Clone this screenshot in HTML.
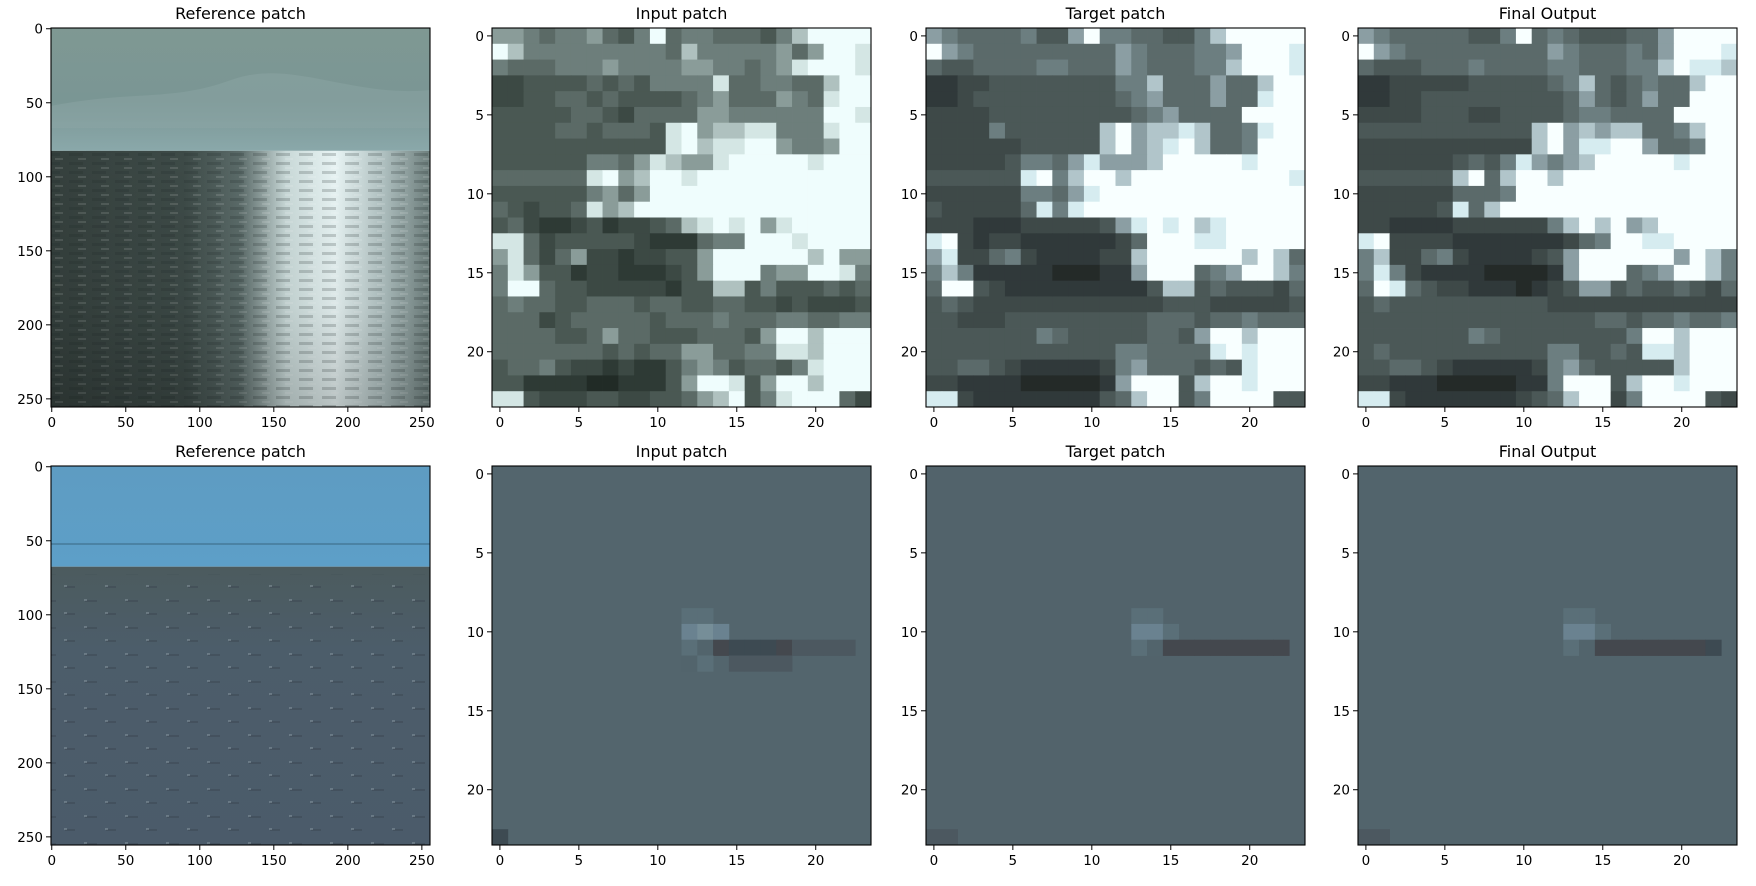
<!DOCTYPE html>
<html><head><meta charset="utf-8">
<style>
html,body{margin:0;padding:0;background:#fff;}
svg{display:block;font-family:"DejaVu Sans","Liberation Sans",sans-serif;}
</style></head>
<body>
<svg id="fig" width="1756" height="886" viewBox="0 0 1756 886" xmlns="http://www.w3.org/2000/svg">
<defs>
<linearGradient id="sky1" x1="0" y1="0" x2="0" y2="1">
<stop offset="0" stop-color="#7f9893"/><stop offset="0.6" stop-color="#7a9694"/><stop offset="1" stop-color="#8aa8aa"/>
</linearGradient>
<linearGradient id="sea1" x1="0" y1="0" x2="1" y2="0">
<stop offset="0" stop-color="#35403d"/><stop offset="0.35" stop-color="#3d4a47"/><stop offset="0.5" stop-color="#5b6b69"/>
<stop offset="0.62" stop-color="#c9d9d8"/><stop offset="0.75" stop-color="#e8f4f4"/><stop offset="0.88" stop-color="#aebfbf"/><stop offset="1" stop-color="#6e7f7d"/>
</linearGradient>
<linearGradient id="seaV" x1="0" y1="0" x2="0" y2="1">
<stop offset="0" stop-color="#000" stop-opacity="0"/><stop offset="0.6" stop-color="#000" stop-opacity="0.05"/><stop offset="1" stop-color="#000" stop-opacity="0.2"/>
</linearGradient>
<pattern id="waves" width="23" height="9" patternUnits="userSpaceOnUse">
<rect x="0" y="0" width="14" height="3" fill="#1e2826" opacity="0.2"/>
<rect x="9" y="5" width="8" height="2" fill="#ffffff" opacity="0.12"/>
</pattern>
<linearGradient id="blue2" x1="0" y1="0" x2="0" y2="1">
<stop offset="0" stop-color="#5e9cc2"/><stop offset="1" stop-color="#5d9fc8"/>
</linearGradient>
<linearGradient id="floor2" x1="0" y1="0" x2="0" y2="1">
<stop offset="0" stop-color="#4c5b5e"/><stop offset="0.3" stop-color="#4c5d6a"/><stop offset="1" stop-color="#4b5b6a"/>
</linearGradient>
<pattern id="spots" width="41" height="27" patternUnits="userSpaceOnUse">
<rect x="3" y="6" width="12" height="2" fill="#3a4650" opacity="0.6"/>
<rect x="2" y="5" width="3" height="2" fill="#9aa8b0" opacity="0.5"/>
<rect x="24" y="19" width="10" height="2" fill="#3a4650" opacity="0.6"/>
<rect x="23" y="18" width="3" height="2" fill="#9aa8b0" opacity="0.5"/>
</pattern>
</defs>
<g id="root"></g>
</svg>
<script>
// ---- data ----
const refTicks = [0, 50, 100, 150, 200, 250];
const patchTicks = [0, 5, 10, 15, 20];
const titlesTop = ["Reference patch", "Input patch", "Target patch", "Final Output"];
const titlesBottom = ["Reference patch", "Input patch", "Target patch", "Final Output"];
const levelColorsInput = ["#212b26","#2e3a35","#3c4944","#4a5853","#5b6a66","#6d7e7b","#8a9c99","#afc1bf","#d4e6e4","#effdfd"];
const levelColorsTarget = ["#242a28","#30393a","#3e4948","#4b5857","#5b6a6a","#6c7e80","#8b9ea3","#b1c5ca","#d6ecf0","#f8ffff"];

const inputTop = [
"665455643594554443579999","975555555554755555646998","544455565555665545689998",
"223333434355558445544799","223344343333456444654899","333334432444466555555998",
"333344344438967788555899","333333333338978899655699","333333554687668999998999",
"444444896799899999999999","333333564699999999999999","432334867999999999999999",
"342112312234789896899999","884233333211145599989999","684246221223369999997966",
"586331221112369995669985","599433222221337735333434","454433444344334433232223",
"444234444434445444554455","444433464433344436997999","444444434344664455887999",
"344532212113565344358999","331111001113699836997999","883222332233467935899942"
];
const targetTop = [
"654444533695544335799999","965444444444654445569998","433444455444654445579998",
"112233333333557444644799","112333333333456444644899","222233333333345644449999",
"222253333337967787445899","222222333337967897445999","222223554686667999998999",
"333333895799799999999998","222222554689999999999999","322222485899999999999999",
"222111222223689897899999","892122111111249998899999","682245211112279999997974",
"575111110001169994569975","499321111111113773433324","343222222222222333222223",
"332223333333334443445444","333333354333334436997999","333333333333554444898999",
"334432111112564443438999","221111000001699937998999","882111111113479935999933"
];
const finalTop = [
"654444433594543334469999","965444444444654445469998","433344454444554445579887",
"112222233333457434544799","112233333333346434644999","222233322333345544449999",
"333333333337967677445799","222222222227968899644599","222222343586567999998999",
"333333794799799999999999","222222444599999999999999","222223847999999999999999",
"221111222222579796799999","892222111111124599889999","572245211112369999996975",
"585211110000169994569975","498432211101236634334324","343333333333222222222222",
"333333333333333443445445","333333354333333335997999","343333333333553343887999",
"334432111112564333337999","221110000011599937998999","882111111123479925999932"
];
const inputBottom = [
"........................","........................","........................",
"........................","........................","........................",
"........................","........................","........................",
"............55..........","............676.........","............54122213333.",
"............45.3333.....","........................","........................",
"........................","........................","........................",
"........................","........................","........................",
"........................","........................","2......................."
];
const targetBottom = [
"........................","........................","........................",
"........................","........................","........................",
"........................","........................","........................",
".............55.........",".............665........",".............5411111111.",
"........................","........................","........................",
"........................","........................","........................",
"........................","........................","........................",
"........................","........................","33......................"
];
const finalBottom = [
"........................","........................","........................",
"........................","........................","........................",
"........................","........................","........................",
".............55.........",".............665........",".............5411111112.",
"........................","........................","........................",
"........................","........................","........................",
"........................","........................","........................",
"........................","........................","33......................"
];
const bottomBase = ["#53656d", "#52636b", "#52646c"];
const bottomShades = ["#3b4047","#44484e","#3d4a52","#4c5860","#52646c","#5a6f78","#6a8290","#768e98"];

// ---- layout ----
const NS = "http://www.w3.org/2000/svg";
const root = document.getElementById('root');
const colX = [51, 492, 926, 1358];
const rowY = [28, 466];
const S = 379;

function mk(tag, attrs, parent) {
  const e = document.createElementNS(NS, tag);
  for (const k in attrs) e.setAttribute(k, attrs[k]);
  (parent || root).appendChild(e);
  return e;
}
function scale(x0, n) { return v => x0 + (v + 0.5) / n * S; }

function axes(g, x0, y0, ticks, n, title) {
  const sx = scale(x0, n), sy = scale(y0, n);
  const t = mk('text', {x: x0 + S / 2, y: y0 - 9, 'text-anchor': 'middle', 'font-size': 16, fill: '#000'}, g);
  t.textContent = title;
  
  
  const fr = mk('rect', {x: x0, y: y0, width: S, height: S, fill: 'none', stroke: '#000', 'stroke-width': 1.1}, g);
  
  
  ticks.forEach(v => {
    const px = sx(v), py = sy(v);
    mk('line', {x1: px, x2: px, y1: y0 + S, y2: y0 + S + 5, stroke: '#000', 'stroke-width': 1}, g);
    const tx = mk('text', {x: px, y: y0 + S + 20, 'text-anchor': 'middle', 'font-size': 13.5, fill: '#000'}, g);
    tx.textContent = v;
    
    
    mk('line', {x1: x0 - 5, x2: x0, y1: py, y2: py, stroke: '#000', 'stroke-width': 1}, g);
    const ty = mk('text', {x: x0 - 8, y: py + 5, 'text-anchor': 'end', 'font-size': 13.5, fill: '#000'}, g);
    ty.textContent = v;
    
    
  });
}

function heat(g, x0, y0, rows, colors) {
  const sx = scale(x0, 24), sy = scale(y0, 24);
  rows.forEach((row, r) => {
    for (let c = 0; c < 24; c++) {
      const lv = +row[c];
      const cell = mk('rect', {x: sx(c - 0.5), y: sy(r - 0.5), width: sx(c + 0.5) - sx(c - 0.5) + 0.4, height: sy(r + 0.5) - sy(r - 0.5) + 0.4, fill: colors[lv]}, g);
      
      
    }
  });
}
function heatBottom(g, x0, y0, rows, base) {
  const sx = scale(x0, 24), sy = scale(y0, 24);
  const bg = mk('rect', {x: x0, y: y0, width: S, height: S, fill: base}, g);
  
  
  rows.forEach((row, r) => {
    for (let c = 0; c < 24; c++) {
      if (row[c] === '.') continue;
      const cell = mk('rect', {x: sx(c - 0.5), y: sy(r - 0.5), width: sx(c + 0.5) - sx(c - 0.5) + 0.4, height: sy(r + 0.5) - sy(r - 0.5) + 0.4, fill: bottomShades[+row[c]]}, g);
      
      
    }
  });
}

(function () {
  const g = mk('g', {});
  
  
  const x0 = colX[0], y0 = rowY[0], hz = y0 + S * 83 / 256;
  mk('rect', {x: x0, y: y0, width: S, height: hz - y0, fill: 'url(#sky1)'}, g);
  mk('path', {d: `M${x0} ${y0+78} C${x0+80} ${y0+62},${x0+120} ${y0+74},${x0+180} ${y0+52} S${x0+300} ${y0+70},${x0+S} ${y0+62} L${x0+S} ${y0+100} L${x0} ${y0+100} Z`, fill: '#8ea6a6', opacity: 0.45}, g);
  mk('rect', {x: x0, y: hz, width: S, height: y0 + S - hz, fill: 'url(#sea1)'}, g);
  mk('rect', {x: x0, y: hz, width: S, height: y0 + S - hz, fill: 'url(#waves)'}, g);
  mk('rect', {x: x0, y: hz, width: S, height: y0 + S - hz, fill: 'url(#seaV)'}, g);
  axes(g, x0, y0, refTicks, 256, titlesTop[0]);
})();
(function () {
  const g = mk('g', {});
  
  
  const x0 = colX[0], y0 = rowY[1], hz = y0 + S * 68 / 256;
  mk('rect', {x: x0, y: y0, width: S, height: hz - y0, fill: 'url(#blue2)'}, g);
  mk('rect', {x: x0, y: y0 + S * 52 / 256, width: S, height: 2, fill: '#3f6f8c', opacity: 0.6}, g);
  mk('rect', {x: x0, y: hz, width: S, height: y0 + S - hz, fill: 'url(#floor2)'}, g);
  mk('rect', {x: x0, y: hz + 8, width: S, height: y0 + S - hz - 8, fill: 'url(#spots)', opacity: 0.8}, g);
  axes(g, x0, y0, refTicks, 256, titlesBottom[0]);
})();

const topData = [inputTop, targetTop, finalTop];
const topColors = [levelColorsInput, levelColorsTarget, levelColorsTarget];
const bottomData = [inputBottom, targetBottom, finalBottom];
for (let i = 0; i < 3; i++) {
  const g1 = mk('g', {});
  
  
  heat(g1, colX[i + 1], rowY[0], topData[i], topColors[i]);
  axes(g1, colX[i + 1], rowY[0], patchTicks, 24, titlesTop[i + 1]);
  const g2 = mk('g', {});
  
  
  heatBottom(g2, colX[i + 1], rowY[1], bottomData[i], bottomBase[i]);
  axes(g2, colX[i + 1], rowY[1], patchTicks, 24, titlesBottom[i + 1]);
}
</script>
</body></html>
